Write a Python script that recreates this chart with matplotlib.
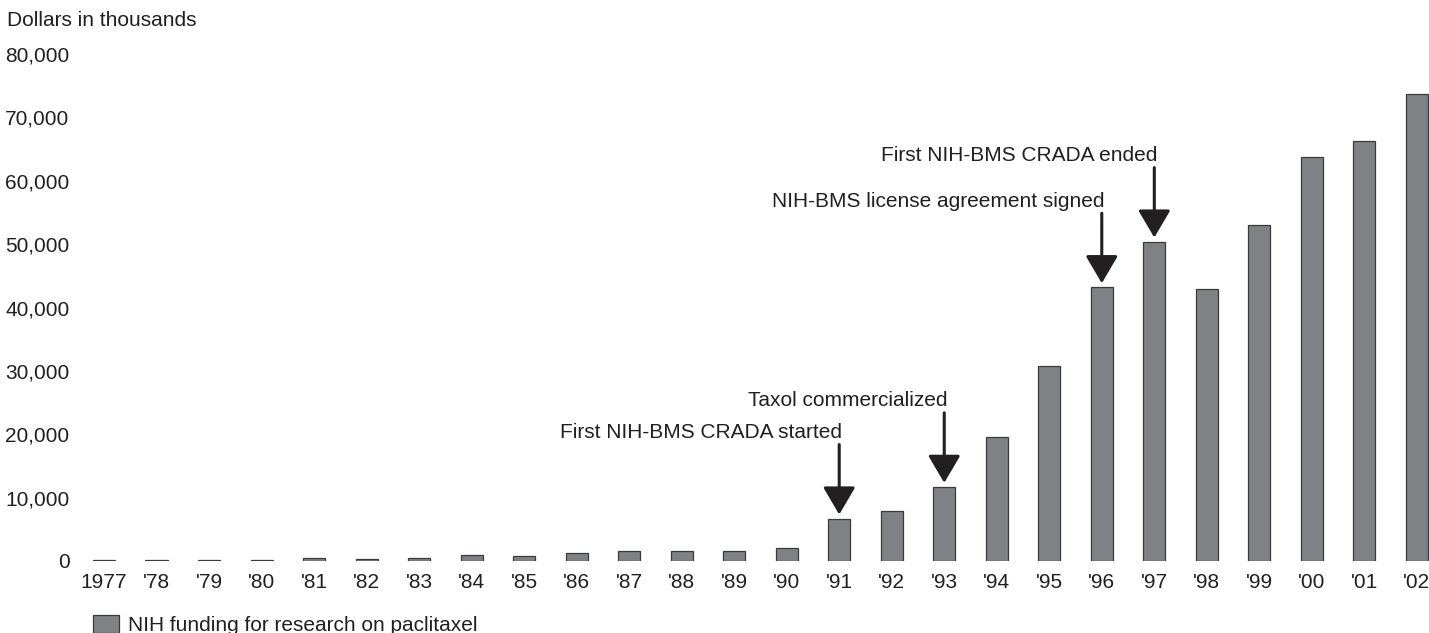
import matplotlib.pyplot as plt
from matplotlib.patches import Patch

plt.rcParams['font.family'] = ['Liberation Sans', 'DejaVu Sans']

# --- data (dollars in thousands) ---
years = ["1977", "'78", "'79", "'80", "'81", "'82", "'83", "'84", "'85", "'86",
         "'87", "'88", "'89", "'90", "'91", "'92", "'93", "'94", "'95", "'96",
         "'97", "'98", "'99", "'00", "'01", "'02"]
funding = [150, 150, 120, 130, 500, 300, 450, 950, 800, 1200,
           1600, 1500, 1500, 2100, 6700, 7900, 11700, 19600, 30800, 43200,
           50400, 42900, 53000, 63700, 66300, 73700]

# events marked by arrows
event_years = ["'91", "'93", "'96", "'97"]
event_labels = ["First NIH-BMS CRADA started", "Taxol commercialized",
                "NIH-BMS license agreement signed", "First NIH-BMS CRADA ended"]

ytick_vals = [0, 10000, 20000, 30000, 40000, 50000, 60000, 70000, 80000]

TEXT = "#231f20"
BAR_FILL = "#808185"
BAR_EDGE = "#3a3a3c"

W, H = 1429, 633
fig = plt.figure(figsize=(W / 100, H / 100), dpi=100)
ax = fig.add_axes([77.75 / W, (H - 561) / H, (1430 - 77.75) / W, (561 - 54) / H])

x = list(range(len(years)))
ax.bar(x, funding, width=0.42, color=BAR_FILL, edgecolor=BAR_EDGE, linewidth=0.9,
       label="NIH funding for research on paclitaxel")

ax.set_xlim(-0.5, 25.25)
ax.set_ylim(0, 80000)
ax.set_xticks(x)
ax.set_xticklabels(years)
ax.set_yticks(ytick_vals)
ax.set_yticklabels([f"{v:,}" for v in ytick_vals])
ax.tick_params(axis="both", length=0, labelsize=15, labelcolor=TEXT)
ax.tick_params(axis="y", pad=6)
ax.tick_params(axis="x", pad=9)
for s in ax.spines.values():
    s.set_visible(False)

# arrows + labels
px = 80000 / (561 - 54)  # data units per pixel
for yr, lab in zip(event_years, event_labels):
    i = years.index(yr)
    tip = funding[i] + 4 * px
    start = tip + 70 * px
    ax.annotate("", xy=(i, tip), xytext=(i, start),
                arrowprops=dict(arrowstyle="-|>,head_length=0.85,head_width=0.5",
                                mutation_scale=20, color=TEXT, lw=2.2,
                                shrinkA=0, shrinkB=0))
    ax.text(i + 0.06, start + 12 * px, lab, ha="right", va="center",
            fontsize=15, color=TEXT)

fig.text(7 / W, 1 - 20 / H, "Dollars in thousands", ha="left", va="center",
         fontsize=15, color=TEXT)

handle = Patch(facecolor=BAR_FILL, edgecolor=BAR_EDGE, linewidth=0.9)
fig.legend([handle], ["NIH funding for research on paclitaxel"],
           loc="upper left", bbox_to_anchor=(93 / W, 1 - 615 / H),
           frameon=False, fontsize=15, handlelength=1.25, handleheight=0.95,
           handletextpad=0.45, borderpad=0, borderaxespad=0,
           labelcolor=TEXT)

fig.savefig("out.png", dpi=100)
